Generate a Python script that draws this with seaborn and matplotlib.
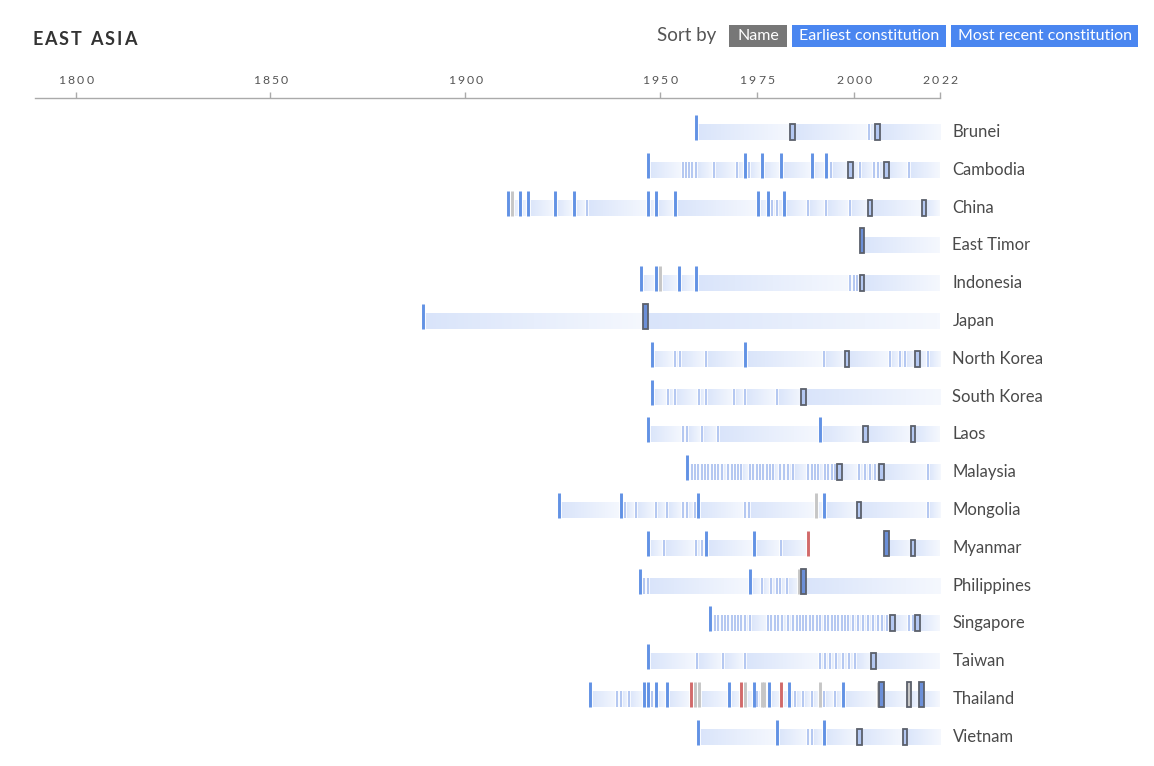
import numpy as np
import matplotlib.pyplot as plt
import seaborn as sns
from matplotlib.patches import Rectangle
from matplotlib.colors import LinearSegmentedColormap

# countries, top to bottom
countries = ['Brunei', 'Cambodia', 'China', 'East Timor', 'Indonesia', 'Japan',
             'North Korea', 'South Korea', 'Laos', 'Malaysia', 'Mongolia', 'Myanmar',
             'Philippines', 'Singapore', 'Taiwan', 'Thailand', 'Vietnam']

# new constitutions (tall blue marks)
new_const = {
    'Brunei': [1959.3],
    'Cambodia': [1947.0, 1972.0, 1976.3, 1981.1, 1989.1, 1992.8],
    'China': [1911.1, 1914.2, 1916.2, 1923.2, 1928.0, 1947.0, 1949.0, 1954.0, 1975.2, 1977.8, 1982.0],
    'Indonesia': [1945.1, 1949.0, 1955.0, 1959.3],
    'Japan': [1889.2],
    'North Korea': [1948.1, 1972.0],
    'South Korea': [1948.1],
    'Laos': [1947.0, 1991.2],
    'Malaysia': [1957.1],
    'Mongolia': [1924.2, 1940.0, 1959.9, 1992.1],
    'Myanmar': [1947.1, 1961.9, 1974.2],
    'Philippines': [1944.9, 1973.2],
    'Singapore': [1962.9],
    'Taiwan': [1947.1],
    'Thailand': [1932.1, 1945.9, 1947.1, 1949.1, 1951.9, 1967.8, 1974.2, 1978.0, 1983.2, 1997.2],
    'Vietnam': [1959.9, 1980.0, 1992.2],
}

# amendments (short light marks)
amendments = {
    'Brunei': [2003.7],
    'Cambodia': [1955.9, 1956.7, 1957.6, 1958.4, 1959.3, 1963.9, 1969.9, 1973.0, 1994.0,
                 2001.4, 2005.1, 2006.0, 2014.1],
    'China': [1931.2, 1978.8, 1980.0, 1988.0, 1992.7, 1999.0],
    'Indonesia': [1999.0, 2000.0, 2000.6],
    'North Korea': [1954.0, 1955.1, 1961.9, 1992.1, 2009.1, 2011.8, 2013.0, 2018.9],
    'South Korea': [1952.0, 1954.0, 1960.0, 1962.0, 1969.0, 1972.0, 1980.1],
    'Laos': [1955.9, 1957.1, 1960.8, 1965.0],
    'Malaysia': [1958.2, 1959.0, 1959.9, 1960.8, 1961.6, 1962.5, 1963.3, 1964.2, 1965.0, 1965.9,
                 1967.6, 1968.5, 1969.3, 1970.2, 1971.0, 1973.2, 1974.0, 1974.9, 1975.7, 1976.6,
                 1977.5, 1978.3, 1979.2, 1980.9, 1981.9, 1983.0, 1984.3, 1988.2, 1989.0, 1989.9,
                 1990.7, 1992.4, 1993.3, 1994.2, 1995.0, 2001.2, 2002.7, 2004.0, 2005.3, 2018.8],
    'Mongolia': [1941.1, 1943.9, 1949.0, 1951.9, 1956.0, 1957.1, 1959.1, 1971.9, 1973.0, 2018.8],
    'Myanmar': [1951.1, 1959.2, 1960.8, 1981.1],
    'Philippines': [1945.9, 1947.1, 1976.2, 1978.5, 1980.0, 1981.0, 1982.8],
    'Singapore': [1964.2, 1965.0, 1965.9, 1966.8, 1967.6, 1968.5, 1969.3, 1970.2, 1971.0, 1971.9,
                  1973.2, 1977.9, 1978.7, 1979.6, 1980.5, 1981.3, 1983.0, 1984.3, 1985.2, 1986.0,
                  1986.9, 1987.7, 1988.6, 1989.5, 1990.3, 1991.2, 1992.4, 1993.3, 1994.2, 1995.0,
                  1995.9, 1996.7, 1997.6, 1998.4, 1999.7, 2001.0, 2002.1, 2003.6, 2004.9, 2006.2,
                  2007.0, 2008.3, 2014.1, 2015.1],
    'Taiwan': [1959.6, 1966.3, 1971.9, 1991.2, 1992.5, 1993.7, 1995.3, 1997.2, 1998.7, 2000.2],
    'Thailand': [1939.1, 1940.1, 1942.2, 1948.1, 1975.1, 1984.7, 1986.9, 1989.2, 1992.2, 1995.0],
    'Vietnam': [1988.2, 1989.0],
}

# interim documents (tall grey marks)
interim = {
    'China': [1912.1],
    'Indonesia': [1950.0],
    'Mongolia': [1990.1],
    'Philippines': [1985.9],
    'Thailand': [1959.0, 1960.0, 1972.0, 1976.3, 1976.9, 1991.2, 2006.0],
}

# suspensions (tall red marks)
suspended = {
    'Myanmar': [1988.1],
    'Thailand': [1958.0, 1970.9, 1981.1],
}

# outlined boxes: light fill, blue fill (new text), grey fill
box_amend = {
    'Brunei': [1984.1, 2006.0],
    'Cambodia': [1999.0, 2008.2],
    'China': [2004.0, 2017.9],
    'Indonesia': [2002.0],
    'North Korea': [1998.1, 2016.2],
    'South Korea': [1987.0],
    'Laos': [2002.9, 2015.1],
    'Malaysia': [1996.1, 2007.0],
    'Mongolia': [2001.2],
    'Myanmar': [2015.1],
    'Singapore': [2009.8, 2016.2],
    'Taiwan': [2004.9],
    'Vietnam': [2001.3, 2013.0],
}
box_new = {
    'East Timor': [2002.0],
    'Japan': [1946.3],
    'Myanmar': [2008.3],
    'Philippines': [1987.0],
    'Thailand': [2007.0, 2017.2],
}
box_interim = {
    'Thailand': [2014.0],
}

# periods with no constitution in force
no_const = {
    'Myanmar': [(1988.1, 2008.3)],
}

year_end = 2022
tick_years = [1800, 1850, 1900, 1950, 1975, 2000, 2022]

BLUE = '#6292e4'
LIGHT = '#b3c7f1'
GREY = '#c6c6c6'
RED = '#d26a6a'
EDGE = '#5b606b'

sns.set_theme(style='white')
plt.rcParams['font.family'] = ['Lato', 'DejaVu Sans']

fig = plt.figure(figsize=(11.54, 7.66), dpi=100)
ax = fig.add_axes([35 / 1154, 6 / 766, 905 / 1154, (760 - 98) / 766])

bar_cmap = LinearSegmentedColormap.from_list('bar', ['#d9e4fa', '#f5f8fe'])
grad = np.linspace(0, 1, 64).reshape(1, -1)

H = 0.42   # bar height (row units)
T = 0.24   # extra height of tall marks

for i, name in enumerate(countries):
    marks = (new_const.get(name, []) + amendments.get(name, []) + interim.get(name, [])
             + suspended.get(name, []) + box_amend.get(name, []) + box_new.get(name, [])
             + box_interim.get(name, []))
    marks = sorted(marks)
    spans = [(marks[0], year_end)]
    for g0, g1 in no_const.get(name, []):
        new_spans = []
        for s0, s1 in spans:
            if g0 > s0:
                new_spans.append((s0, g0))
            if g1 < s1:
                new_spans.append((g1, s1))
        spans = new_spans
    for s0, s1 in spans:
        bounds = [s0] + [m for m in marks if s0 < m < s1] + [s1]
        for a, b in zip(bounds[:-1], bounds[1:]):
            if b - a < 0.05:
                continue
            ax.imshow(grad, extent=(a, b, i + H / 2, i - H / 2), cmap=bar_cmap,
                      aspect='auto', interpolation='bilinear', zorder=1)

    top = i - H / 2
    bot = i + H / 2
    # short marks
    am = amendments.get(name, [])
    if am:
        ax.vlines(am, top, bot, color='white', lw=2.6, zorder=2)
        ax.vlines(am, top, bot, color=LIGHT, lw=1.4, zorder=3)
    # tall marks
    for vals, col in [(interim.get(name, []), GREY), (suspended.get(name, []), RED),
                      (new_const.get(name, []), BLUE)]:
        if vals:
            ax.vlines(vals, top - T, bot, color='white', lw=3.4, zorder=2)
            ax.vlines(vals, top - T, bot, color=col, lw=2.1, zorder=4)
    # outlined boxes
    for x in box_amend.get(name, []):
        ax.add_patch(Rectangle((x - 0.6, top), 1.2, H, facecolor=LIGHT, edgecolor=EDGE,
                               lw=1.3, zorder=5))
    for x in box_new.get(name, []):
        ax.add_patch(Rectangle((x - 0.6, top - T), 1.2, H + T, facecolor='#6b8fd8',
                               edgecolor=EDGE, lw=1.3, zorder=5))
    for x in box_interim.get(name, []):
        ax.add_patch(Rectangle((x - 0.6, top - T), 1.2, H + T, facecolor=GREY,
                               edgecolor=EDGE, lw=1.3, zorder=5))

    ax.text(2025.2, i, name, va='center', ha='left', fontsize=12, color='#4a4a4a',
            clip_on=False)

ax.set_xlim(1789.5, 2022)
ax.set_ylim(16.614, -0.899)
ax.set_aspect('auto')
ax.set_yticks([])
for s in ['left', 'right', 'bottom']:
    ax.spines[s].set_visible(False)
ax.spines['top'].set_color('#aaaaaa')
ax.spines['top'].set_linewidth(1.0)
ax.xaxis.tick_top()
ax.set_xticks(tick_years)
ax.set_xticklabels([])
ax.tick_params(axis='x', direction='out', length=4.5, width=1.0, color='#aaaaaa')

renderer = fig.canvas.get_renderer()


def spaced_text(x_px, y_px, s, gap_px, center=False, **kw):
    # draw a string one character at a time, with extra space between letters
    widths = []
    for ch in s:
        t = fig.text(0, 0, ch, **kw)
        widths.append(t.get_window_extent(renderer).width)
        t.remove()
    x = x_px
    if center:
        x -= (sum(widths) + gap_px * (len(s) - 1)) / 2
    for ch, w in zip(s, widths):
        fig.text(x / 1154, 1 - y_px / 766, ch, va='center', ha='left', **kw)
        x += w + gap_px


# year labels above the axis line
for yr in tick_years:
    x_px = 35 + (yr - 1789.5) / (2022 - 1789.5) * 905
    spaced_text(x_px, 80.5, str(yr), 2.2, center=True, fontsize=8.8, color='#555555')

# header
spaced_text(32, 39.5, 'EAST ASIA', 2.0, fontsize=13, fontweight='bold', color='#333333')
fig.text(657 / 1154, 1 - 36 / 766, 'Sort by', fontsize=13.5, color='#555555',
         va='center', ha='left')
buttons = [('Name', 729, 787, '#777777'),
           ('Earliest constitution', 792, 946, '#4a86f0'),
           ('Most recent constitution', 951, 1138, '#4a86f0')]
for label, x0, x1, col in buttons:
    fig.add_artist(Rectangle((x0 / 1154, 1 - 47 / 766), (x1 - x0) / 1154, 22 / 766,
                             transform=fig.transFigure, facecolor=col, edgecolor='none'))
    fig.text((x0 + x1) / 2 / 1154, 1 - 36.5 / 766, label, fontsize=11.5,
             color='white', va='center', ha='center')

fig.savefig('out.png', dpi=100, facecolor='white')
